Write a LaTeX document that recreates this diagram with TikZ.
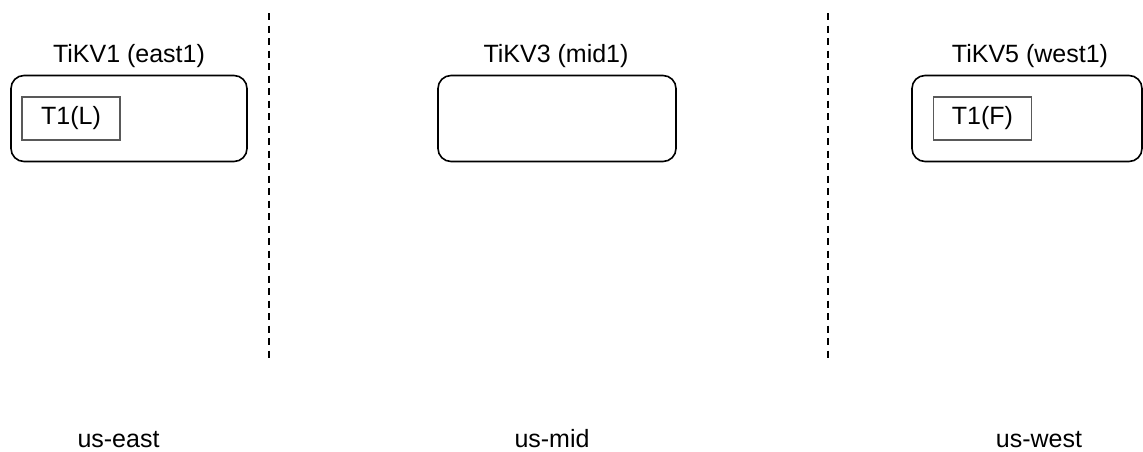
\documentclass[tikz,border=0pt]{standalone}
\usepackage{fontspec}
\setmainfont{Liberation Sans}
\usetikzlibrary{positioning}

\begin{document}
\begin{tikzpicture}[
  x=1pt, y=-1pt,
  tikvbox/.style={rectangle, draw, rounded corners=13pt, line width=1.6pt, minimum width=236pt, minimum height=86pt},
  leaderbox/.style={rectangle, draw=black!65, line width=1.6pt, minimum width=98pt, minimum height=43pt, inner sep=0pt, font=\fontsize{25}{30}\selectfont},
  title/.style={anchor=base, inner sep=0pt, font=\fontsize{25}{30}\selectfont},
  region/.style={anchor=base, inner sep=0pt, font=\fontsize{25}{30}\selectfont},
  divider/.style={line width=2pt, dash pattern=on 7pt off 5.5pt, black},
]
\useasboundingbox (0,0) rectangle (1143,451);

% stores
\node[tikvbox] (tikv1) at (129,118.5) {};
\node[tikvbox, minimum width=238pt] (tikv3) at (557,118.5) {};
\node[tikvbox, minimum width=230pt] (tikv5) at (1027,118.5) {};

\node[title] (tikv1title) at (129,62) {TiKV1 (east1)};
\node[title] (tikv3title) at (556,62) {TiKV3 (mid1)};
\node[title] (tikv5title) at (1030,62) {TiKV5 (west1)};

% leader and follower
\node[leaderbox] (t1l) at (71,118.5) {T1(L)};
\node[leaderbox] (t1f) at (982.5,118.5) {T1(F)};

% region borders
\coordinate (div1top) at (268.5,13);
\coordinate (div1bot) at (268.5,358);
\coordinate (div2top) at (828,13);
\coordinate (div2bot) at (828,358);
\draw[divider] (div1top) -- (div1bot);
\draw[divider] (div2top) -- (div2bot);

\node[region] (east) at (118.5,447) {us-east};
\node[region] (mid) at (552,447) {us-mid};
\node[region] (west) at (1039,447) {us-west};
\end{tikzpicture}
\end{document}
